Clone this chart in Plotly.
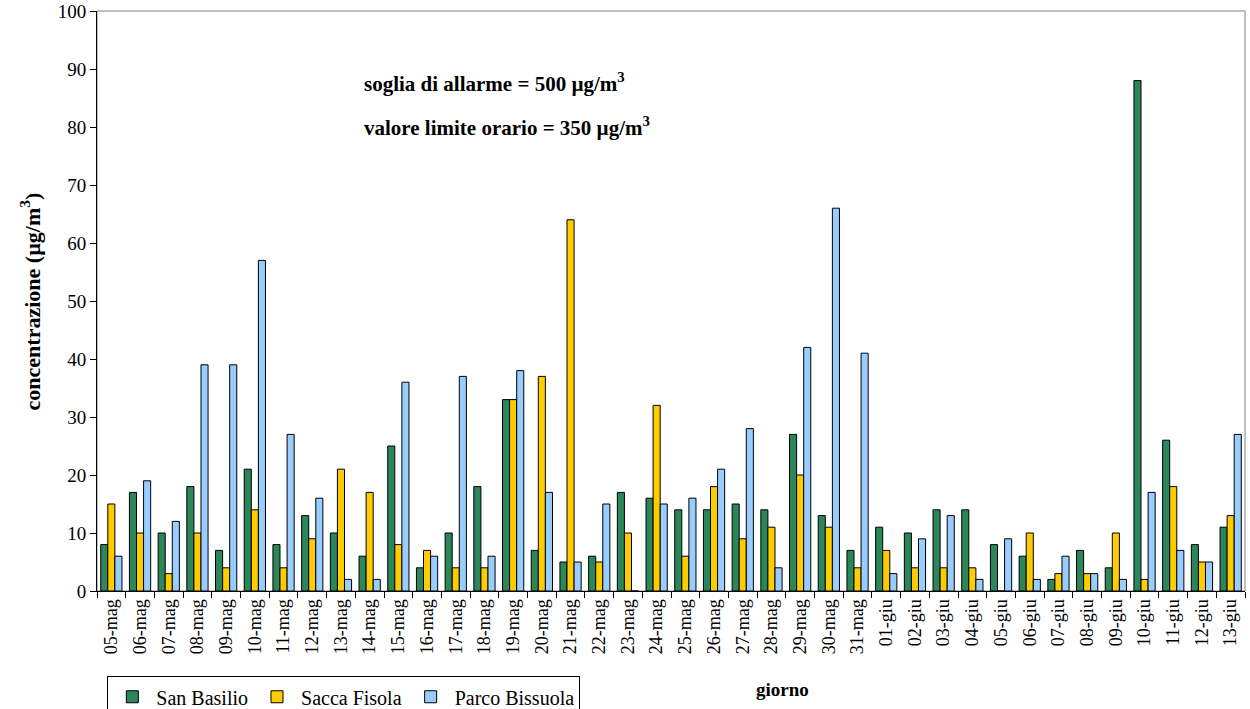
import plotly.graph_objects as go

# giorni di misura
giorni = ["05-mag", "06-mag", "07-mag", "08-mag", "09-mag", "10-mag", "11-mag", "12-mag",
          "13-mag", "14-mag", "15-mag", "16-mag", "17-mag", "18-mag", "19-mag", "20-mag",
          "21-mag", "22-mag", "23-mag", "24-mag", "25-mag", "26-mag", "27-mag", "28-mag",
          "29-mag", "30-mag", "31-mag", "01-giu", "02-giu", "03-giu", "04-giu", "05-giu",
          "06-giu", "07-giu", "08-giu", "09-giu", "10-giu", "11-giu", "12-giu", "13-giu"]

# concentrazioni massime orarie (µg/m³)
san_basilio = [8, 17, 10, 18, 7, 21, 8, 13, 10, 6, 25, 4, 10, 18, 33, 7, 5, 6, 17, 16,
               14, 14, 15, 14, 27, 13, 7, 11, 10, 14, 14, 8, 6, 2, 7, 4, 88, 26, 8, 11]
sacca_fisola = [15, 10, 3, 10, 4, 14, 4, 9, 21, 17, 8, 7, 4, 4, 33, 37, 64, 5, 10, 32,
                6, 18, 9, 11, 20, 11, 4, 7, 4, 4, 4, 0, 10, 3, 3, 10, 2, 18, 5, 13]
parco_bissuola = [6, 19, 12, 39, 39, 57, 27, 16, 2, 2, 36, 6, 37, 6, 38, 17, 5, 15, 0, 15,
                  16, 21, 28, 4, 42, 66, 41, 3, 9, 13, 2, 9, 2, 6, 3, 2, 17, 7, 5, 27]

y_ticks = [0, 10, 20, 30, 40, 50, 60, 70, 80, 90, 100]

serie = [("San Basilio", san_basilio, "#2b8659"),
         ("Sacca Fisola", sacca_fisola, "#ffcc00"),
         ("Parco Bissuola", parco_bissuola, "#99ccff")]

SERIF = "Liberation Serif"

fig = go.Figure()
for nome, valori, colore in serie:
    fig.add_trace(go.Bar(
        x=giorni, y=valori, name=nome,
        marker=dict(color=colore, line=dict(color="black", width=1)),
    ))

fig.update_layout(
    width=1250, height=709,
    margin=dict(l=97, r=5, t=11, b=118, autoexpand=False),
    paper_bgcolor="white", plot_bgcolor="white",
    barmode="group", bargap=0.26, bargroupgap=0,
    font=dict(family=SERIF, color="black", size=18),
    showlegend=True,
    legend=dict(
        orientation="h", x=0.009, xanchor="left", y=-0.147, yanchor="top",
        bordercolor="black", borderwidth=1, bgcolor="white",
        font=dict(family=SERIF, size=20), itemwidth=38,
        traceorder="normal",
    ),
    xaxis=dict(
        type="category", tickangle=-90, tickson="boundaries",
        ticks="outside", ticklen=6, tickcolor="black",
        showline=True, linecolor="black", linewidth=1, automargin=False,
        tickfont=dict(family=SERIF, size=18), showgrid=False,
    ),
    yaxis=dict(
        range=[0, 100], tickmode="array", tickvals=y_ticks, ticks="outside",
        ticklen=6, tickcolor="black", automargin=False, ticklabeloverflow="allow",
        showline=True, linecolor="black", linewidth=1, showgrid=False, zeroline=False,
        tickfont=dict(family=SERIF, size=19),
    ),
)

# cornice grigia dell'area del grafico
fig.add_shape(type="rect", xref="paper", yref="paper", x0=0, x1=1, y0=0, y1=1,
              line=dict(color="#808080", width=1), layer="below")

fig.add_annotation(xref="paper", yref="paper", x=-0.058, y=0.5, textangle=-90,
                   text="<b>concentrazione (µg/m<sup>3</sup>)</b>", showarrow=False,
                   font=dict(family=SERIF, size=22), xanchor="center", yanchor="middle")
fig.add_annotation(xref="paper", yref="paper", x=0.597, y=-0.17,
                   text="<b>giorno</b>", showarrow=False,
                   font=dict(family=SERIF, size=19), xanchor="center", yanchor="middle")

fig.add_annotation(xref="paper", yref="paper", x=0.231, y=0.903, xanchor="left",
                   text="<b>soglia di allarme = 500 µg/m<sup>3</sup></b>", showarrow=False,
                   font=dict(family=SERIF, size=21))
fig.add_annotation(xref="paper", yref="paper", x=0.231, y=0.828, xanchor="left",
                   text="<b>valore limite orario = 350 µg/m<sup>3</sup></b>", showarrow=False,
                   font=dict(family=SERIF, size=21))

fig.write_html("out.html")
